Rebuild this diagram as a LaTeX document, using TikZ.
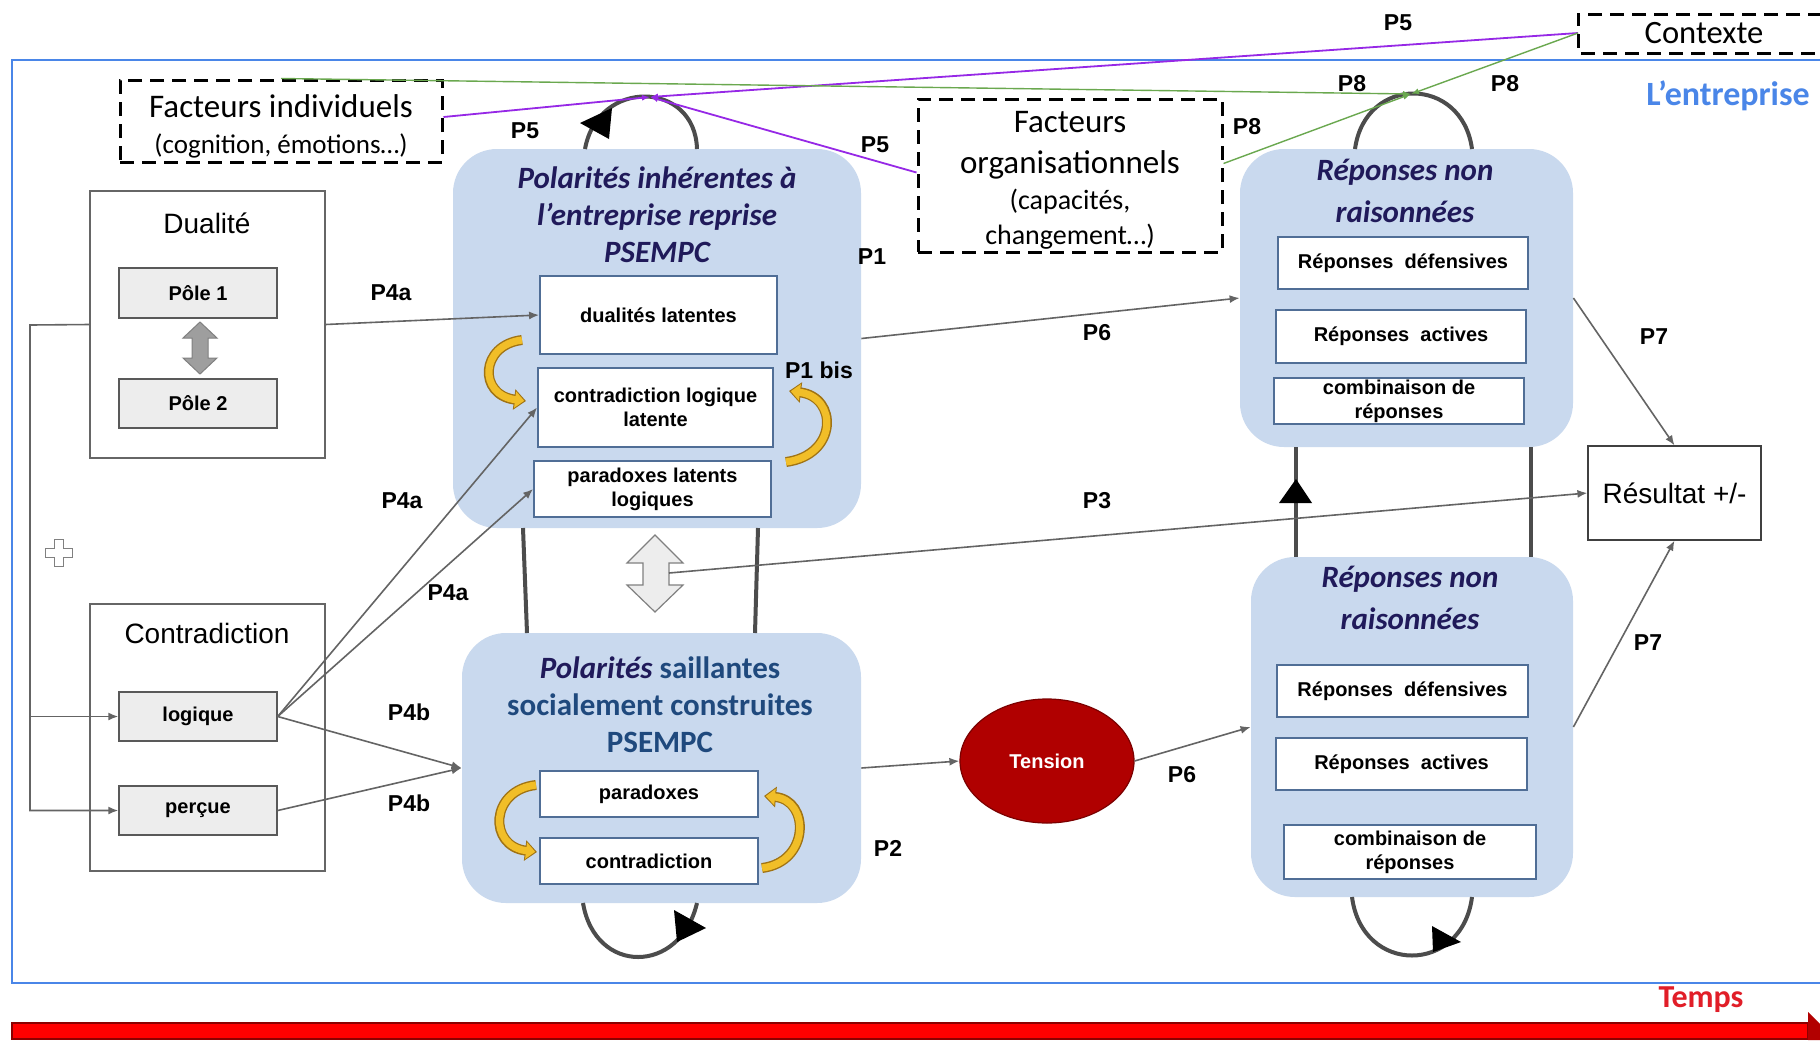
\documentclass[tikz,border=0pt]{standalone}
\usepackage{fontspec}
\setmainfont{Liberation Sans}
\newfontfamily\calfont{Carlito}
\usetikzlibrary{calc,arrows.meta,shapes.geometric}

\definecolor{grp}{RGB}{201,217,238}
\definecolor{ibord}{RGB}{80,110,150}
\definecolor{navy}{RGB}{32,26,90}
\definecolor{tblue}{RGB}{31,73,125}
\definecolor{entblue}{RGB}{74,134,232}
\definecolor{gold}{RGB}{241,190,40}
\definecolor{goldline}{RGB}{160,115,20}
\definecolor{pfive}{RGB}{150,40,230}
\definecolor{peight}{RGB}{106,168,79}
\definecolor{tens}{RGB}{176,0,0}
\definecolor{lgray}{RGB}{100,100,100}
\definecolor{tempsred}{RGB}{225,30,40}

\begin{document}
\begin{tikzpicture}[x=0.5pt,y=-0.5pt,
  bx/.style args={#1/#2/#3/#4}{minimum width={(#3-#1)*0.5pt}, minimum height={(#4-#2)*0.5pt},
    at={({(#1+#3)/2},{(#2+#4)/2})}},
  grpbox/.style={fill=grp, draw=none, rounded corners=22pt, inner sep=0pt},
  ibox/.style={fill=white, draw=ibord, line width=0.9pt, inner sep=0pt, align=center,
    font=\fontsize{10}{12}\selectfont\bfseries},
  gbox/.style={fill=black!7, draw=black!65, line width=0.7pt, inner sep=0pt,
    font=\fontsize{10}{12}\selectfont\bfseries},
  plainbox/.style={draw=black!60, line width=0.6pt, inner sep=0pt},
  dashbox/.style={draw=black, line width=1.5pt, dash pattern=on 7pt off 4pt, inner sep=0pt},
  boxtext/.style={align=center, inner sep=0pt},
  conn/.style={draw=lgray, line width=0.8pt, -{Latex[length=5pt,width=4pt]}},
  pfiveline/.style={draw=pfive, line width=0.9pt, -{Latex[length=4pt,width=3pt]}},
  peightline/.style={draw=peight, line width=0.7pt, -{Latex[length=4pt,width=3pt]}},
  plabel/.style={font=\fontsize{11.5}{13}\selectfont\bfseries, inner sep=0pt},
  loopline/.style={draw=black!70, line width=2pt},
  titlefont/.style={align=center, inner sep=0pt, text=navy,
    font=\calfont\fontsize{15.5}{18.5}\selectfont\bfseries\itshape},
  goldout/.style={draw=goldline, line width=5pt, -{Triangle[length=6pt,width=10pt]}},
  goldin/.style={draw=gold, line width=3.6pt, shorten >=0.9pt, -{Triangle[length=4.6pt,width=8pt]}},
]
\useasboundingbox (0,0) rectangle (1820,1040);
\fill[white] (0,0) rectangle (1820,1040);

% frame "L'entreprise"
\draw[entblue, line width=1.4pt] (1822,60) -- (12,60) -- (12,983) -- (1822,983);
\node[font=\calfont\fontsize{17}{20}\selectfont\bfseries, text=entblue] (ent) at (1728,96) {L’entreprise};

% time arrow
\fill[red, draw=red!55!black, line width=0.6pt] (12,1023) rectangle (1808,1039);
\fill[red!70!black] (1808,1012) -- (1820,1024) -- (1820,1040) -- (1808,1040) -- cycle;
\node[font=\calfont\fontsize{16}{18}\selectfont\bfseries, text=tempsred] (temps) at (1701,1000) {Temps};

% Contexte
\node[bx=1578/14/1830/53, inner sep=0pt, font=\calfont\fontsize{16.3}{18}\selectfont] (ctx) {Contexte};
\draw[black, line width=1.5pt, dash pattern=on 7pt off 4pt] (1822,14) -- (1578,14) -- (1578,53) -- (1822,53);
\coordinate (ctxw) at (1578,33);

% facteurs
\node[dashbox, bx=120/80/442/162] (fi) {};
\node[boxtext, font=\calfont\fontsize{16.5}{18}\selectfont] (fit) at (281,126)
  {Facteurs individuels\\\fontsize{13.5}{16}\selectfont (cognition, émotions…)};
\node[dashbox, bx=918/99/1222/252] (fo) {};
\node[boxtext, font=\calfont\fontsize{16.5}{16}\selectfont] (fot) at (1070,180)
  {Facteurs\\[4.5pt] organisationnels\\[2pt] \fontsize{14}{16}\selectfont(capacités,\\[1.5pt]\fontsize{14}{16}\selectfont changement…)};

% Dualite
\node[plainbox, bx=90/191/325/458] (dual) {};
\node[font=\fontsize{14}{16}\selectfont, inner sep=0pt] (dualt) at (207,223) {Dualité};
\node[gbox, bx=119/268/277/318] (pole1) {Pôle 1};
\node[gbox, bx=119/379/277/428] (pole2) {Pôle 2};
\filldraw[fill=black!38, draw=black!50, line width=0.5pt]
  (200,322) -- (217,338) -- (208,338) -- (208,358) -- (217,358) -- (200,374)
  -- (183,358) -- (192,358) -- (192,338) -- (183,338) -- cycle;

% Contradiction
\node[plainbox, bx=90/604/325/871] (contr) {};
\node[font=\fontsize{14}{16}\selectfont, inner sep=0pt] (contrt) at (207,633) {Contradiction};
\node[gbox, bx=119/692/277/741] (logique) {logique};
\node[gbox, bx=119/786/277/835] (percue) {perçue};

% plus sign
\filldraw[fill=white, draw=black!50, line width=0.6pt]
  (54.5,539.5) -- (63.5,539.5) -- (63.5,548.5) -- (72.5,548.5) -- (72.5,557.5) -- (63.5,557.5)
  -- (63.5,566.5) -- (54.5,566.5) -- (54.5,557.5) -- (45.5,557.5) -- (45.5,548.5) -- (54.5,548.5) -- cycle;

% left connector
\coordinate (lc) at (30,325);
\draw[conn] (dual.west) -- (lc) |- (percue.west);
\draw[conn] (lc) |- (logique.west);

% group 1
\node[grpbox, bx=453/149/861/528] (g1) {};
\node[titlefont] (g1t) at (657,215) {Polarités inhérentes à\\l’entreprise reprise\\PSEMPC};
\node[ibox, bx=540/276/777/354] (dl) {dualités latentes};
\node[ibox, bx=538/368/773/447] (cl) {contradiction logique\\latente};
\node[ibox, bx=534/461/771/517] (pl) {paradoxes latents\\logiques};
\draw[goldout] (522,340) .. controls (480,345) and (478,395) .. (526,401);
\draw[goldin] (522,340) .. controls (480,345) and (478,395) .. (526,401);
\draw[goldout] (786,462) .. controls (838,455) and (838,397) .. (789,391);
\draw[goldin] (786,462) .. controls (838,455) and (838,397) .. (789,391);

% group 2
\node[grpbox, bx=462/633/861/903] (g2) {};
\node[titlefont, text=tblue, font=\calfont\fontsize{15.5}{18.5}\selectfont\bfseries] (g2t) at (660,705)
  {{\itshape\color{navy}Polarités} saillantes\\socialement construites\\PSEMPC};
\node[ibox, bx=540/771/758/817] (par) {paradoxes};
\node[ibox, bx=540/838/758/884] (con) {contradiction};
\draw[goldout] (536,785) .. controls (490,790) and (488,846) .. (537,852);
\draw[goldin] (536,785) .. controls (490,790) and (488,846) .. (537,852);
\draw[goldout] (762,868) .. controls (810,862) and (810,800) .. (764,796);
\draw[goldin] (762,868) .. controls (810,862) and (810,800) .. (764,796);

% loops left
\coordinate (pk1) at (650,97);
\draw[loopline] (585,149) .. controls (598,78) and (695,80) .. (697,149);
\fill[black] (580,123) -- (612,108) -- (609,139) -- cycle;
\draw[loopline] (523,528) -- (527,633);
\draw[loopline] (758,528) -- (755,633);
\draw[loopline] (583,903) .. controls (595,975) and (680,975) .. (697,903);
\fill[black] (674,910) -- (706,928) -- (677,942) -- cycle;

% big double arrow
\filldraw[fill=black!7, draw=black!50, line width=0.6pt]
  (655,535) -- (683,563) -- (669,563) -- (669,585) -- (683,585) -- (655,612)
  -- (627,585) -- (643,585) -- (643,563) -- (627,563) -- cycle;
\coordinate (dblr) at (669,573);

% tension
\node[ellipse, fill=tens, draw=tens!70!black, line width=0.6pt, minimum width=87pt, minimum height=62pt,
  inner sep=0pt, text=white, font=\fontsize{10}{12}\selectfont\bfseries] (ten) at (1047,761) {Tension};

% group 3
\node[grpbox, bx=1240/149/1573/447] (g3) {};
\node[titlefont, font=\calfont\fontsize{15.5}{21}\selectfont\bfseries\itshape] (g3t) at (1405,191) {Réponses non\\raisonnées};
\node[ibox, bx=1278/237/1528/289] (rd1) {Réponses~~défensives};
\node[ibox, bx=1276/310/1526/363] (ra1) {Réponses~~actives};
\node[ibox, bx=1274/378/1524/424] (rc1) {combinaison de\\réponses};

% group 4
\node[grpbox, bx=1251/557/1573/897] (g4) {};
\node[titlefont, font=\calfont\fontsize{15.5}{21}\selectfont\bfseries\itshape] (g4t) at (1410,598) {Réponses non\\raisonnées};
\node[ibox, bx=1277/665/1528/717] (rd2) {Réponses~~défensives};
\node[ibox, bx=1276/738/1527/790] (ra2) {Réponses~~actives};
\node[ibox, bx=1284/825/1536/879] (rc2) {combinaison de\\réponses};

% loops right
\coordinate (pk2) at (1411,94);
\draw[loopline] (1355,149) .. controls (1365,75) and (1462,75) .. (1472,149);
\draw[loopline] (1296,447) -- (1296,557);
\draw[loopline] (1531,447) -- (1531,557);
\fill[black] (1279,503) -- (1312,503) -- (1296,479) -- cycle;
\draw[loopline] (1352,897) .. controls (1362,975) and (1462,975) .. (1472,897);
\fill[black] (1432,926) -- (1461,942) -- (1433,952) -- cycle;

% resultat
\node[plainbox, draw=black!75, bx=1588/446/1761/540, font=\fontsize{14}{16}\selectfont] (res) {Résultat +/-};

% connectors
\draw[conn] (dual.east) -- (dl.west);
\draw[conn] (logique.east) -- (cl.west);
\draw[conn] (logique.east) -- (pl.west);
\draw[conn] (logique.east) -- (g2.west);
\draw[conn] (percue.east) -- (g2.west);
\draw[conn] (g1.east) -- (g3.west);
\draw[conn] (dblr) -- (res.west);
\draw[conn] (g2.east) -- (ten.west);
\draw[conn] (ten.east) -- (g4.west);
\draw[conn] (g3.east) -- (res.north);
\draw[conn] (g4.east) -- (res.south);

% P5 purple
\draw[pfiveline] ($(fi.east)+(0,-4)$) -- (pk1);
\draw[pfiveline] (ctxw) -- (pk1);
\draw[pfiveline] ($(fo.west)+(0,-3)$) -- (pk1);
% P8 green
\draw[peightline] (fi.north) -- (pk2);
\draw[peightline] (ctxw) -- (pk2);
\draw[peightline] ($(fo.east)+(0,-12)$) -- (pk2);

% labels
\node[plabel] (l5a) at (525,131) {P5};
\node[plabel] (l5b) at (875,145) {P5};
\node[plabel] (l5c) at (1398,23) {P5};
\node[plabel] (l8a) at (1352,84) {P8};
\node[plabel] (l8b) at (1505,84) {P8};
\node[plabel] (l8c) at (1247,127) {P8};
\node[plabel] (l1) at (872,257) {P1};
\node[plabel] (l1b) at (819,370) {P1 bis};
\node[plabel] (l4a1) at (391,293) {P4a};
\node[plabel] (l4a2) at (402,501) {P4a};
\node[plabel] (l4a3) at (448,593) {P4a};
\node[plabel] (l4b1) at (409,712) {P4b};
\node[plabel] (l4b2) at (409,803) {P4b};
\node[plabel] (l6a) at (1097,333) {P6};
\node[plabel] (l3) at (1097,501) {P3};
\node[plabel] (l7a) at (1654,337) {P7};
\node[plabel] (l7b) at (1648,643) {P7};
\node[plabel] (l6b) at (1182,775) {P6};
\node[plabel] (l2) at (888,848) {P2};
\end{tikzpicture}
\end{document}
